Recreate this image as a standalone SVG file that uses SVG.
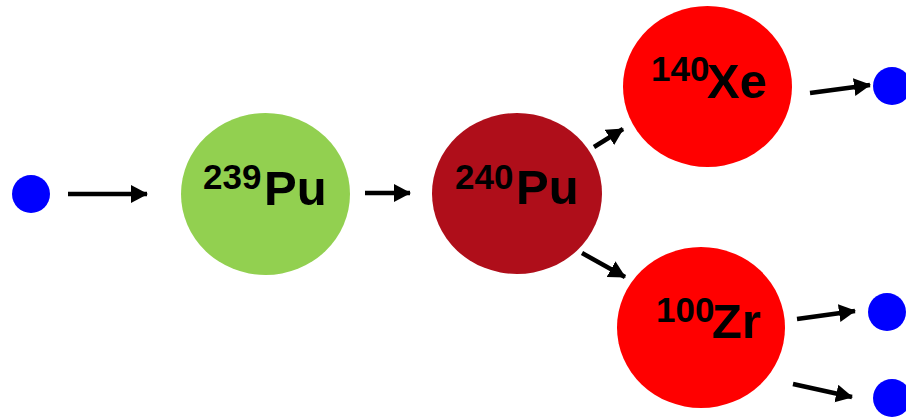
<svg xmlns="http://www.w3.org/2000/svg" width="906" height="419" viewBox="0 0 906 419">
  <style>
    .neutron { fill: #0000ff; }
    .label { font-family: "Liberation Sans", Arial, sans-serif; font-weight: bold; fill: #000; }
    .mass { font-size: 35px; }
    .sym { font-size: 49px; }
    .conn line { stroke: #000; stroke-width: 4.5; marker-end: url(#head); }
  </style>
  <defs>
    <marker id="head" markerUnits="userSpaceOnUse" markerWidth="18" markerHeight="20" refX="16" refY="9" orient="auto">
      <path d="M0,0 L17,9 L0,18 Z" fill="#000"/>
    </marker>
  </defs>

  <!-- neutrons -->
  <g id="n-in"><circle class="neutron" cx="31" cy="194" r="19"/></g>
  <g id="n-out1"><circle class="neutron" cx="892" cy="86" r="19"/></g>
  <g id="n-out2"><circle class="neutron" cx="887" cy="312" r="19"/></g>
  <g id="n-out3"><circle class="neutron" cx="892" cy="398" r="19"/></g>

  <!-- nuclei -->
  <g id="pu239">
    <ellipse cx="265.5" cy="194" rx="84.5" ry="81" fill="#92d050"/>
    <text class="label mass" x="203" y="189">239</text>
    <text class="label sym" x="264" y="205">Pu</text>
  </g>
  <g id="pu240">
    <ellipse cx="517" cy="193.5" rx="85" ry="80.5" fill="#af0e1a"/>
    <text class="label mass" x="455" y="189">240</text>
    <text class="label sym" x="516" y="204">Pu</text>
  </g>
  <g id="xe140">
    <ellipse cx="707.5" cy="86.5" rx="84.5" ry="80.5" fill="#ff0000"/>
    <text class="label mass" x="651" y="81">140</text>
    <text class="label sym" x="707" y="98">Xe</text>
  </g>
  <g id="zr100">
    <ellipse cx="701" cy="327.5" rx="84" ry="80.5" fill="#ff0000"/>
    <text class="label mass" x="656" y="322">100</text>
    <text class="label sym" x="712" y="338">Zr</text>
  </g>

  <!-- connectors -->
  <g id="connectors" class="conn">
    <line x1="68" y1="194" x2="147" y2="194"/>
    <line x1="365" y1="193" x2="410" y2="193"/>
    <line x1="594" y1="147" x2="623" y2="129"/>
    <line x1="582" y1="253" x2="625" y2="277"/>
    <line x1="810" y1="93" x2="870" y2="85"/>
    <line x1="797" y1="319" x2="855" y2="311"/>
    <line x1="793" y1="384" x2="852" y2="397"/>
  </g>
</svg>
